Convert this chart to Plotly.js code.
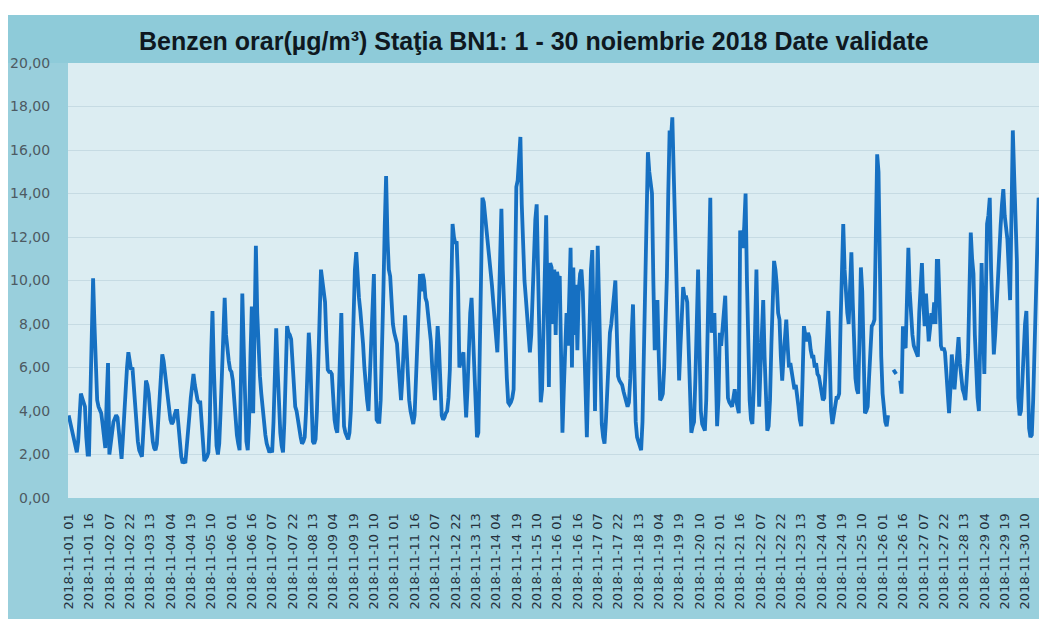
<!DOCTYPE html>
<html>
<head>
<meta charset="utf-8">
<script src="https://cdn.plot.ly/plotly-3.0.1.min.js"></script>
<style>
html,body{margin:0;padding:0;background:#ffffff;width:1039px;height:619px;overflow:hidden;}
#chart{position:absolute;left:8px;top:15px;width:1031px;height:604px;}
</style>
</head>
<body>
<div id="chart"></div>
<script>
// Hourly benzene values (µg/m³), one array per day, hours 01..24
const d01=[3.8,3.5,3.2,3.0,2.8,2.3,2.1,2.6,3.8,4.8,4.6,4.4,4.2,2.8,2.0,2.0,4.5,8.0,10.1,8.0,5.5,4.5,4.2,4.0];
const d02=[3.9,3.4,2.8,2.3,4.5,6.2,2.0,2.4,3.0,3.5,3.7,3.8,3.7,3.0,2.2,1.8,2.8,4.0,5.0,6.0,6.7,6.2,5.9,6.0];
const d03=[5.2,4.2,3.2,2.6,2.2,2.0,1.9,3.0,4.5,5.4,5.2,4.8,4.0,3.2,2.6,2.3,2.2,2.5,3.5,4.8,5.9,6.6,6.3,5.8];
const d04=[5.3,4.6,4.0,3.6,3.4,3.5,3.8,4.0,4.0,3.2,2.4,1.9,1.6,1.7,1.6,2.2,3.0,3.8,4.6,5.3,5.7,5.2,4.8,4.5];
const d05=[4.4,4.4,3.5,2.3,1.7,1.8,1.9,2.1,3.5,6.5,8.6,6.0,3.5,2.4,2.0,2.5,4.0,6.0,8.0,9.2,7.5,6.7,6.3,5.9];
const d06=[5.8,5.4,4.5,3.6,2.9,2.5,2.2,5.5,9.4,7.0,4.0,2.6,2.2,3.5,6.5,8.8,3.9,8.0,11.6,8.5,6.7,5.6,4.8,4.0];
const d07=[3.4,2.9,2.5,2.3,2.1,2.2,2.1,3.5,6.0,7.8,6.0,4.0,3.0,2.4,2.1,3.5,6.5,7.9,7.6,7.5,7.3,6.0,5.0,4.2];
const d08=[4.0,3.7,3.2,2.8,2.5,2.6,2.8,4.0,6.0,7.6,6.5,4.0,2.6,2.5,2.7,4.0,6.5,9.0,10.5,10.0,9.5,9.0,7.2,5.9];
const d09=[5.8,5.8,5.7,4.5,3.6,3.2,3.0,4.5,7.0,8.5,5.5,3.3,3.0,2.8,2.7,3.0,4.0,6.0,8.5,10.5,11.3,10.0,9.2,8.6];
const d10=[8.0,7.1,6.0,5.0,4.5,4.0,5.5,7.5,9.5,10.3,6.0,3.6,3.5,3.5,4.5,6.5,9.5,12.5,14.8,12.0,10.5,10.2,9.0,8.0];
const d11=[7.6,7.3,7.1,6.2,5.4,4.5,5.5,7.0,8.4,7.0,5.5,4.5,4.0,3.6,3.4,3.8,5.5,7.5,9.0,10.3,9.5,10.3,10.0,9.2];
const d12=[9.0,8.5,8.0,7.2,6.0,5.0,4.5,6.5,7.9,6.9,5.0,3.8,3.6,3.7,3.9,4.0,4.6,5.9,9.5,12.6,12.0,11.7,11.8,10.0];
const d13=[6.0,6.2,6.5,6.7,5.0,3.7,5.0,7.0,8.5,9.2,7.5,6.3,4.0,2.8,3.0,6.5,11.0,13.8,13.6,13.0,12.5,12.0,11.3,10.6];
const d14=[9.8,9.0,8.0,7.2,6.7,8.5,11.5,13.3,10.5,8.5,7.4,5.5,4.4,4.3,4.4,4.6,5.0,9.0,14.3,14.6,15.5,16.6,13.5,10.9];
const d15=[10.0,9.2,8.2,7.3,6.7,7.5,9.5,11.5,12.8,13.5,10.0,6.0,4.4,5.0,8.0,11.0,13.0,9.0,5.1,10.8,10.6,8.0,10.5,7.5];
const d16=[10.4,10.0,10.2,6.5,3.0,5.0,7.3,8.5,7.0,9.0,11.5,6.0,10.6,7.5,9.8,6.8,9.5,10.3,10.5,9.5,7.0,4.5,2.8,5.5];
const d17=[8.5,10.5,11.4,7.0,4.0,8.0,11.6,9.0,6.0,3.4,2.8,2.5,3.5,5.0,6.5,7.6,8.0,8.5,9.3,10.0,7.5,5.6,5.4,5.3];
const d18=[5.2,4.9,4.6,4.4,4.2,4.4,5.5,7.5,8.9,6.0,3.5,2.8,2.6,2.4,2.2,3.5,6.5,10.5,14.0,15.9,15.0,14.5,14.0,10.0];
const d19=[6.8,8.0,9.1,6.5,4.5,4.6,4.8,6.0,8.0,10.2,14.0,16.9,16.5,17.5,15.0,12.5,10.6,8.0,5.4,7.0,8.5,9.7,9.2,9.3];
const d20=[9.0,7.0,5.7,3.0,3.3,3.5,5.5,8.5,10.5,7.0,4.0,3.4,3.2,3.1,4.5,8.0,11.5,13.8,7.6,8.0,8.5,6.0,3.3,4.5];
const d21=[7.6,7.0,7.8,8.6,9.3,7.0,4.6,4.4,4.3,4.2,4.6,5.0,4.5,4.1,3.9,12.3,12.0,11.5,12.5,14.0,10.0,6.8,4.5,3.6];
const d22=[3.4,5.0,8.0,10.5,7.0,4.2,6.0,8.0,9.1,6.5,4.0,3.1,3.3,4.5,7.0,9.5,10.9,10.5,9.8,8.5,8.2,6.5,5.4,6.5];
const d23=[7.5,8.2,7.0,6.0,6.2,5.8,5.4,5.0,5.2,4.8,4.2,3.6,3.3,5.5,7.9,7.5,7.2,7.6,7.4,6.8,6.5,6.5,6.0,6.2];
const d24=[5.7,5.6,5.3,5.0,4.5,4.6,6.0,7.8,8.6,6.5,4.0,3.4,3.8,4.2,4.6,4.6,4.8,8.0,11.0,12.6,10.5,9.4,8.5,8.0];
const d25=[10.0,11.3,9.0,6.5,5.5,5.0,4.8,7.5,10.6,9.5,6.0,3.9,4.0,4.2,5.5,7.0,7.9,8.0,8.2,12.0,15.8,15.0,9.4,6.5];
const d26=[4.8,4.0,3.5,3.3,3.8,null,null,null,5.9,5.8,5.7,null,null,5.4,4.8,7.9,7.0,6.9,9.0,11.5,9.5,8.0,7.5,7.0];
const d27=[6.8,6.6,6.5,8.5,10.0,10.8,9.0,7.9,9.4,8.5,7.2,7.8,8.5,8.0,9.0,8.0,10.9,10.9,8.5,7.0,6.8,6.9,6.7,5.5];
const d28=[4.5,3.9,5.0,6.6,5.8,5.0,5.8,6.8,7.4,6.2,5.5,5.0,4.8,4.5,5.5,6.6,9.5,12.2,11.0,10.3,7.5,5.4,4.6,4.0];
const d29=[7.0,10.8,8.0,5.7,9.0,12.6,13.0,13.8,10.5,8.0,6.6,7.5,9.0,10.5,11.9,12.5,13.5,14.2,13.0,12.5,11.9,10.5,9.1,13.0];
const d30=[16.9,14.8,12.5,10.9,4.6,3.8,4.0,5.5,7.0,8.0,8.6,5.0,3.2,2.8,2.9,4.5,7.0,9.0,10.9,13.8,13.5,12.0,10.0,9.0];

const days=[d01,d02,d03,d04,d05,d06,d07,d08,d09,d10,d11,d12,d13,d14,d15,d16,d17,d18,d19,d20,d21,d22,d23,d24,d25,d26,d27,d28,d29,d30];
const yTicks=[0,2,4,6,8,10,12,14,16,18,20];
const titleText="Benzen orar(µg/m³) Staţia BN1: 1 - 30 noiembrie 2018 Date validate";

const pad=n=>String(n).padStart(2,'0');
const categories=[];
const values=[];
days.forEach((arr,di)=>{
  arr.forEach((v,hi)=>{
    categories.push('2018-11-'+pad(di+1)+' '+pad(hi+1));
    values.push(v);
  });
});
const tickLabels=categories.filter((c,i)=>i%15===0);

const trace={
  x:categories, y:values, type:'scatter', mode:'lines',
  line:{color:'#1670c2', width:3.8, shape:'linear'},
  connectgaps:false, hoverinfo:'skip'
};

const layout={
  width:1031, height:604,
  margin:{l:60, r:0, t:48, b:121, pad:0},
  paper_bgcolor:'#99cfdc',
  plot_bgcolor:'#dcedf2',
  separators:', ',
  showlegend:false,
  shapes:[{type:'rect', xref:'paper', yref:'paper', x0:-0.07, x1:1.01, y0:1.0, y1:1.115,
           fillcolor:'#8ecbd9', line:{width:0}, layer:'below'}],
  title:{text:titleText, x:0.51, xref:'container', y:0.957, yref:'container', yanchor:'middle', xanchor:'center',
         font:{family:'Liberation Sans, Arial, sans-serif', size:25, color:'#0f1820', weight:'bold'}},
  xaxis:{type:'category', range:[-0.5,715.3], tickmode:'array', tickvals:tickLabels, ticktext:tickLabels,
         tickangle:-90, ticks:'outside', ticklen:9, tickcolor:'rgba(0,0,0,0)',
         tickfont:{family:'DejaVu Sans, Verdana, sans-serif', size:13, color:'#26323c'},
         showgrid:false, zeroline:false, showline:false, automargin:false, fixedrange:true},
  yaxis:{range:[0,20], tickmode:'array', tickvals:yTicks, tickformat:'.2f',
         ticks:'outside', ticklen:14, tickcolor:'rgba(0,0,0,0)',
         tickfont:{family:'DejaVu Sans, Verdana, sans-serif', size:14, color:'#4d5a62'},
         showgrid:true, gridcolor:'#c6dbe3', gridwidth:1, zeroline:false, showline:false, automargin:false, fixedrange:true}
};

Plotly.newPlot('chart',[trace],layout,{displayModeBar:false, staticPlot:true});
</script>
</body>
</html>
